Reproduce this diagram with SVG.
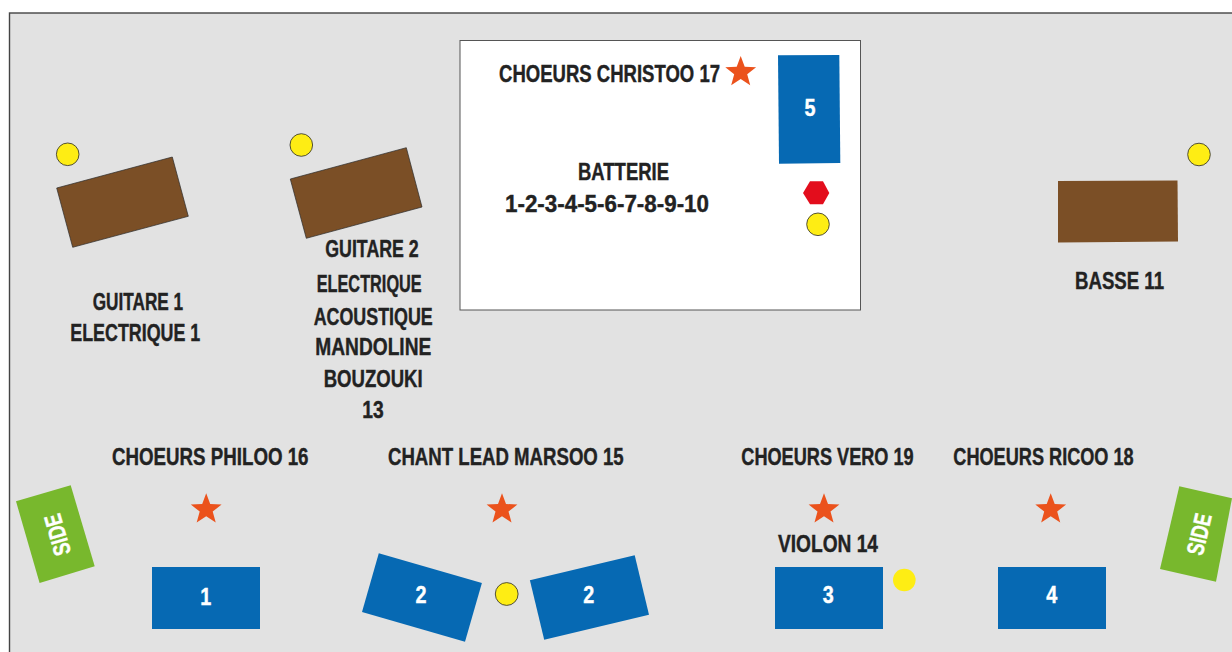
<svg xmlns="http://www.w3.org/2000/svg" width="1232" height="652" viewBox="0 0 1232 652">
<style>
text{font-family:"Liberation Sans Narrow","Liberation Sans",Arial,sans-serif;font-weight:700;font-size:24px;fill:#222;stroke:#222;stroke-width:.4}
.n{fill:#fff;stroke:#fff;text-anchor:middle}
.blue{fill:#0669b3}
.brown{fill:#7b4f26;stroke:#2a2a2a;stroke-width:.7}
.green{fill:#78b82d}
.y{fill:#feed14;stroke:#2a2a2a;stroke-width:.8}
</style>
<defs>
<polygon id="star" fill="#eb521c" points="0,-16.2 4,-5.5 15.4,-5 6.5,2.1 9.52,13.1 0,6.8 -9.52,13.1 -6.5,2.1 -15.4,-5 -4,-5.5"/>
</defs>
<rect x="9.5" y="13" width="1224" height="641" fill="#e2e2e2" stroke="#444" stroke-width="1.4"/>
<g id="batterie">
<rect x="460" y="40.5" width="400.5" height="269.5" fill="#fff" stroke="#555" stroke-width="1"/>
<text x="499" y="81.5" textLength="221" lengthAdjust="spacingAndGlyphs">CHOEURS CHRISTOO 17</text>
<use href="#star" x="740.7" y="72.2"/>
<text x="578" y="179.5" textLength="91" lengthAdjust="spacingAndGlyphs">BATTERIE</text>
<text x="505" y="211.5" textLength="204" lengthAdjust="spacingAndGlyphs">1-2-3-4-5-6-7-8-9-10</text>
<polygon class="blue" points="778,55.3 839.3,55 840.3,163 779,163.8"/>
<text class="n" x="810" y="116" textLength="11" lengthAdjust="spacingAndGlyphs">5</text>
<polygon fill="#e30d1c" points="803,193 810,181.3 823,181.3 829.3,193 823,204.3 810,204.3"/>
<circle class="y" cx="818" cy="224.3" r="11.3"/>
</g>
<g id="guitare1">
<circle class="y" cx="67.7" cy="154.3" r="11.3"/>
<polygon class="brown" points="56.7,188 172.3,157 188.3,216.3 72.7,247.3"/>
<text x="92.7" y="309.5" textLength="90.5" lengthAdjust="spacingAndGlyphs">GUITARE 1</text>
<text x="70.3" y="341.2" textLength="130" lengthAdjust="spacingAndGlyphs">ELECTRIQUE 1</text>
</g>
<g id="guitare2">
<circle class="y" cx="301.3" cy="145" r="11.3"/>
<polygon class="brown" points="290.3,179 406.3,147.7 422,207 306.3,238.3"/>
<text x="325.3" y="257.2" textLength="93.4" lengthAdjust="spacingAndGlyphs">GUITARE 2</text>
<text x="316.7" y="292.2" textLength="105" lengthAdjust="spacingAndGlyphs">ELECTRIQUE</text>
<text x="313.7" y="324.5" textLength="119" lengthAdjust="spacingAndGlyphs">ACOUSTIQUE</text>
<text x="315.3" y="355.2" textLength="116" lengthAdjust="spacingAndGlyphs">MANDOLINE</text>
<text x="323.7" y="387.2" textLength="99" lengthAdjust="spacingAndGlyphs">BOUZOUKI</text>
<text x="362.3" y="418.2" textLength="21.4" lengthAdjust="spacingAndGlyphs">13</text>
</g>
<g id="basse">
<circle class="y" cx="1199" cy="154.5" r="11.3"/>
<polygon class="brown" style="stroke:none" points="1058,181 1177.5,180.5 1178,241.5 1058,242.5"/>
<text x="1075" y="288.5" textLength="89" lengthAdjust="spacingAndGlyphs">BASSE 11</text>
</g>
<g id="side-left">
<polygon class="green" points="16,501.3 70.7,485.3 94.7,566.3 39.6,583"/>
<text class="n" transform="translate(65.4,532.5) rotate(-106)" textLength="42" lengthAdjust="spacingAndGlyphs">SIDE</text>
</g>
<g id="philoo">
<text x="112" y="464.5" textLength="196.5" lengthAdjust="spacingAndGlyphs">CHOEURS PHILOO 16</text>
<use href="#star" x="206.2" y="509.5"/>
<rect class="blue" x="152" y="567" width="108" height="62"/>
<text class="n" x="205.8" y="604.7" textLength="11" lengthAdjust="spacingAndGlyphs">1</text>
</g>
<g id="marsoo">
<text x="388" y="464.5" textLength="235.7" lengthAdjust="spacingAndGlyphs">CHANT LEAD MARSOO 15</text>
<use href="#star" x="502" y="509.5"/>
<polygon class="blue" points="378.8,553.3 481.9,583 465,641.7 362,612"/>
<text class="n" x="421" y="602.7" textLength="11" lengthAdjust="spacingAndGlyphs">2</text>
<circle class="y" cx="506.7" cy="594" r="11.4"/>
<polygon class="blue" points="529.9,580.3 634.7,555.3 649,614.7 544.2,639.7"/>
<text class="n" x="588.8" y="602.7" textLength="11" lengthAdjust="spacingAndGlyphs">2</text>
</g>
<g id="vero">
<text x="741.3" y="464.5" textLength="172.4" lengthAdjust="spacingAndGlyphs">CHOEURS VERO 19</text>
<use href="#star" x="824" y="509.5"/>
<text x="778" y="551.8" textLength="100" lengthAdjust="spacingAndGlyphs">VIOLON 14</text>
<rect class="blue" x="775" y="567" width="108" height="62"/>
<text class="n" x="828.3" y="602.7" textLength="11" lengthAdjust="spacingAndGlyphs">3</text>
<circle cx="904.3" cy="580" r="11.3" fill="#feed14"/>
</g>
<g id="ricoo">
<text x="953.3" y="464.5" textLength="180.4" lengthAdjust="spacingAndGlyphs">CHOEURS RICOO 18</text>
<use href="#star" x="1050.7" y="509.5"/>
<rect class="blue" x="998" y="567" width="108" height="62"/>
<text class="n" x="1051.7" y="602.7" textLength="11" lengthAdjust="spacingAndGlyphs">4</text>
</g>
<g id="side-right">
<polygon class="green" points="1179.3,486.3 1232,498.3 1216,581.7 1160,569"/>
<text class="n" transform="translate(1207.3,536) rotate(-77)" textLength="42" lengthAdjust="spacingAndGlyphs">SIDE</text>
</g>
</svg>
